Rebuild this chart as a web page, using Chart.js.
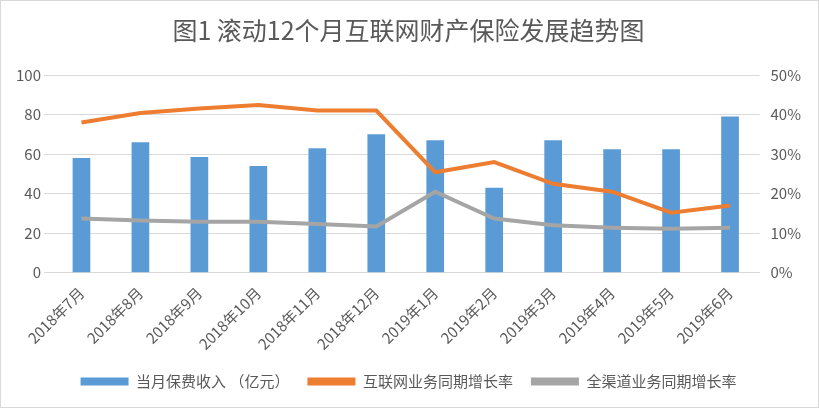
<!DOCTYPE html>
<html><head><meta charset="utf-8">
<script src="https://cdn.jsdelivr.net/npm/chart.js@4"></script>
<style>
html,body{margin:0;padding:0;background:#fff}
#wrap{width:817px;height:406px;border:1px solid #d9d9d9;position:relative}
</style></head>
<body><div id="wrap"><canvas id="c" width="817" height="406"></canvas></div>
<script>
const months = ["2018年7月","2018年8月","2018年9月","2018年10月","2018年11月","2018年12月","2019年1月","2019年2月","2019年3月","2019年4月","2019年5月","2019年6月"];
const premium = [58,66,58.5,54,63,70,67,43,67,62.5,62.5,79];
const internetGrowth = [38,40.4,41.5,42.4,41,41,25.4,28,22.5,20.5,15.2,17];
const allGrowth = [13.7,13.2,12.9,12.9,12.3,11.7,20.5,13.7,12,11.4,11.1,11.4];

const font = "'Noto Sans CJK SC', sans-serif";
new Chart(document.getElementById("c"), {
  data: {
    labels: months,
    datasets: [
      {type:"line", label:"互联网业务同期增长率", data: internetGrowth, yAxisID:"y1", borderColor:"#ed7d31", backgroundColor:"#ed7d31", borderWidth:4, pointRadius:0, tension:0, order:1},
      {type:"line", label:"全渠道业务同期增长率", data: allGrowth, yAxisID:"y1", borderColor:"#a5a5a5", backgroundColor:"#a5a5a5", borderWidth:4, pointRadius:0, tension:0, order:2},
      {type:"bar", label:"当月保费收入 （亿元）", data: premium, yAxisID:"y", backgroundColor:"#5b9bd5", categoryPercentage:1, barPercentage:0.3, order:3}
    ]
  },
  options: {
    responsive:false, animation:false,
    layout:{padding:{left:12,right:14,top:0,bottom:8}},
    plugins:{
      title:{display:true, text:"图1 滚动12个月互联网财产保险发展趋势图", color:"#595959", font:{family:font, size:25, weight:"normal"}, padding:{top:14,bottom:30}},
      legend:{position:"bottom", labels:{color:"#595959", font:{family:font,size:15}, boxWidth:48, boxHeight:8, padding:18,
        generateLabels(chart){
          const ds = chart.data.datasets;
          return [2,0,1].map(i=>({text:ds[i].label, fillStyle:ds[i].backgroundColor, strokeStyle:ds[i].backgroundColor, lineWidth:0, datasetIndex:i, fontColor:"#595959"}));
        }}}
    },
    scales:{
      x:{grid:{display:false}, border:{color:"#d9d9d9"}, ticks:{color:"#595959", font:{family:font,size:15}, maxRotation:45, minRotation:45}},
      y:{position:"left", min:0, max:100, ticks:{stepSize:20, color:"#595959", font:{family:font,size:15}}, grid:{color:"#d9d9d9"}, border:{display:false}},
      y1:{position:"right", min:0, max:50, ticks:{stepSize:10, color:"#595959", font:{family:font,size:15}, callback:v=>v+"%"}, grid:{display:false}, border:{display:false}}
    }
  }
});
</script></body></html>
